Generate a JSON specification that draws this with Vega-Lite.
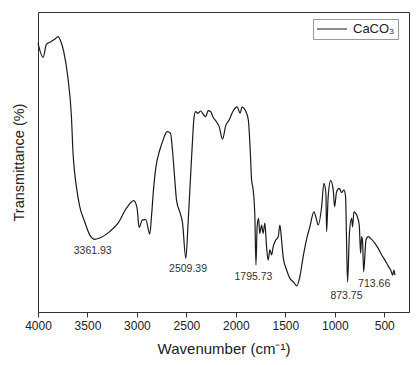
{
  "$schema": "https://vega.github.io/schema/vega-lite/v6.json",
  "width": 371,
  "height": 300,
  "autosize": {"type": "none"},
  "padding": {"left": 38, "top": 12, "right": 11, "bottom": 53},
  "background": "white",
  "config": {
    "view": {"stroke": "#333", "strokeWidth": 1},
    "font": "Liberation Sans"
  },
  "datasets": {
    "spectrum": [
      {"wn": 4000, "T": 89.6}, {"wn": 3949, "T": 84.9}, {"wn": 3915, "T": 89.2}, {"wn": 3882, "T": 89.9},
      {"wn": 3831, "T": 90.9}, {"wn": 3798, "T": 91.8}, {"wn": 3763, "T": 89.6}, {"wn": 3740, "T": 86.8},
      {"wn": 3697, "T": 77.9}, {"wn": 3662, "T": 65.1}, {"wn": 3646, "T": 53.0}, {"wn": 3629, "T": 46.3},
      {"wn": 3612, "T": 41.8}, {"wn": 3578, "T": 35.1}, {"wn": 3528, "T": 30.1}, {"wn": 3477, "T": 25.7},
      {"wn": 3426, "T": 24.2}, {"wn": 3359, "T": 24.9}, {"wn": 3276, "T": 26.8}, {"wn": 3191, "T": 29.6},
      {"wn": 3106, "T": 34.6}, {"wn": 3032, "T": 37.1}, {"wn": 2999, "T": 34.7}, {"wn": 2978, "T": 28.2},
      {"wn": 2944, "T": 30.7}, {"wn": 2911, "T": 30.8}, {"wn": 2870, "T": 26.0}, {"wn": 2853, "T": 31.8},
      {"wn": 2830, "T": 41.8}, {"wn": 2810, "T": 47.9}, {"wn": 2769, "T": 54.0}, {"wn": 2736, "T": 57.3},
      {"wn": 2695, "T": 60.1}, {"wn": 2661, "T": 59.6}, {"wn": 2641, "T": 54.0}, {"wn": 2617, "T": 44.0},
      {"wn": 2600, "T": 37.3}, {"wn": 2567, "T": 33.4}, {"wn": 2539, "T": 29.6}, {"wn": 2506, "T": 17.9},
      {"wn": 2483, "T": 29.6}, {"wn": 2458, "T": 45.1}, {"wn": 2438, "T": 57.3}, {"wn": 2422, "T": 65.1},
      {"wn": 2405, "T": 66.8}, {"wn": 2382, "T": 66.2}, {"wn": 2357, "T": 67.0}, {"wn": 2331, "T": 66.0},
      {"wn": 2304, "T": 65.1}, {"wn": 2280, "T": 67.1}, {"wn": 2256, "T": 66.8}, {"wn": 2230, "T": 64.9},
      {"wn": 2196, "T": 63.4}, {"wn": 2169, "T": 61.8}, {"wn": 2135, "T": 57.6}, {"wn": 2101, "T": 62.3},
      {"wn": 2068, "T": 64.0}, {"wn": 2028, "T": 67.0}, {"wn": 1987, "T": 68.4}, {"wn": 1957, "T": 66.3},
      {"wn": 1938, "T": 68.3}, {"wn": 1899, "T": 66.8}, {"wn": 1874, "T": 64.0}, {"wn": 1864, "T": 59.6},
      {"wn": 1852, "T": 51.8}, {"wn": 1841, "T": 44.0}, {"wn": 1825, "T": 40.7}, {"wn": 1808, "T": 31.8},
      {"wn": 1797, "T": 15.7}, {"wn": 1785, "T": 28.4}, {"wn": 1771, "T": 31.2}, {"wn": 1758, "T": 26.2},
      {"wn": 1740, "T": 29.0}, {"wn": 1724, "T": 26.2}, {"wn": 1707, "T": 29.6}, {"wn": 1690, "T": 21.8},
      {"wn": 1674, "T": 17.3}, {"wn": 1656, "T": 20.7}, {"wn": 1639, "T": 19.0}, {"wn": 1623, "T": 21.8},
      {"wn": 1596, "T": 24.0}, {"wn": 1572, "T": 25.1}, {"wn": 1555, "T": 29.0}, {"wn": 1538, "T": 24.0},
      {"wn": 1522, "T": 18.4}, {"wn": 1487, "T": 14.0}, {"wn": 1454, "T": 11.2}, {"wn": 1421, "T": 10.1},
      {"wn": 1383, "T": 8.7}, {"wn": 1353, "T": 11.8}, {"wn": 1320, "T": 18.4}, {"wn": 1279, "T": 25.1},
      {"wn": 1252, "T": 28.4}, {"wn": 1211, "T": 33.4}, {"wn": 1184, "T": 30.7}, {"wn": 1168, "T": 29.0},
      {"wn": 1133, "T": 35.1}, {"wn": 1110, "T": 42.9}, {"wn": 1090, "T": 39.6}, {"wn": 1083, "T": 26.8},
      {"wn": 1067, "T": 38.4}, {"wn": 1042, "T": 43.8}, {"wn": 1016, "T": 40.7}, {"wn": 1002, "T": 35.1},
      {"wn": 982, "T": 40.1}, {"wn": 955, "T": 41.2}, {"wn": 931, "T": 39.8}, {"wn": 908, "T": 40.7},
      {"wn": 891, "T": 38.4}, {"wn": 882, "T": 25.1}, {"wn": 871, "T": 10.0}, {"wn": 852, "T": 26.2},
      {"wn": 830, "T": 31.2}, {"wn": 820, "T": 28.4}, {"wn": 807, "T": 33.4}, {"wn": 779, "T": 32.3},
      {"wn": 753, "T": 29.0}, {"wn": 739, "T": 19.6}, {"wn": 729, "T": 25.1}, {"wn": 719, "T": 23.3},
      {"wn": 708, "T": 13.4}, {"wn": 685, "T": 24.0}, {"wn": 662, "T": 25.1}, {"wn": 628, "T": 24.2},
      {"wn": 594, "T": 22.9}, {"wn": 561, "T": 21.2}, {"wn": 526, "T": 19.0}, {"wn": 493, "T": 17.3},
      {"wn": 460, "T": 15.3}, {"wn": 435, "T": 14.0}, {"wn": 415, "T": 12.3}, {"wn": 402, "T": 14.0},
      {"wn": 392, "T": 12.3}
    ],
    "peaks": [
      {"wn": 3447, "T": 20.4, "label": "3361.93"},
      {"wn": 2483, "T": 14.2, "label": "2509.39"},
      {"wn": 1822, "T": 11.6, "label": "1795.73"},
      {"wn": 882, "T": 5.3, "label": "873.75"},
      {"wn": 602, "T": 9.2, "label": "713.66"}
    ]
  },
  "layer": [
    {
      "data": {"name": "spectrum"},
      "transform": [{"calculate": "'CaCO₃'", "as": "series"}],
      "mark": {"type": "line", "strokeWidth": 1.2, "interpolate": "monotone"},
      "encoding": {
        "x": {
          "field": "wn", "type": "quantitative",
          "scale": {"domain": [4000, 250], "nice": false, "zero": false},
          "axis": {
            "title": "Wavenumber (cm⁻¹)",
            "values": [4000, 3750, 3500, 3250, 3000, 2750, 2500, 2250, 2000, 1750, 1500, 1250, 1000, 750, 500, 250],
            "labelExpr": "datum.value % 500 === 0 ? datum.label : ''",
            "format": "d",
            "grid": false,
            "domainColor": "#333",
            "tickColor": "#333",
            "tickSize": {"condition": {"test": "datum.value % 500 === 0", "value": 5}, "value": 3},
            "labelFontSize": 12,
            "labelColor": "#222",
            "labelPadding": 3,
            "labelFlush": false,
            "titleFontSize": 15,
            "titleFontWeight": "normal",
            "titleColor": "#222",
            "titlePadding": 10
          }
        },
        "y": {
          "field": "T", "type": "quantitative",
          "scale": {"domain": [0, 100], "nice": false},
          "axis": {
            "title": "Transmittance (%)",
            "ticks": false,
            "labels": false,
            "grid": false,
            "domainColor": "#333",
            "titleFontSize": 14.5,
            "titleFontWeight": "normal",
            "titleColor": "#222",
            "titlePadding": 12
          }
        },
        "color": {
          "field": "series", "type": "nominal",
          "scale": {"range": ["#1a1a1a"]},
          "legend": {
            "title": null,
            "orient": "none",
            "legendX": 275,
            "legendY": 7,
            "symbolType": "stroke",
            "symbolSize": 900,
            "symbolStrokeWidth": 1.2,
            "clipHeight": 14,
            "labelFontSize": 13,
            "labelColor": "#222",
            "labelOffset": 5,
            "padding": 3,
            "strokeColor": "#999",
            "fillColor": "white"
          }
        }
      }
    },
    {
      "data": {"name": "peaks"},
      "mark": {"type": "text", "fontSize": 10.5, "color": "#333", "align": "center", "baseline": "middle"},
      "encoding": {
        "x": {"field": "wn", "type": "quantitative"},
        "y": {"field": "T", "type": "quantitative"},
        "text": {"field": "label", "type": "nominal"}
      }
    }
  ]
}
